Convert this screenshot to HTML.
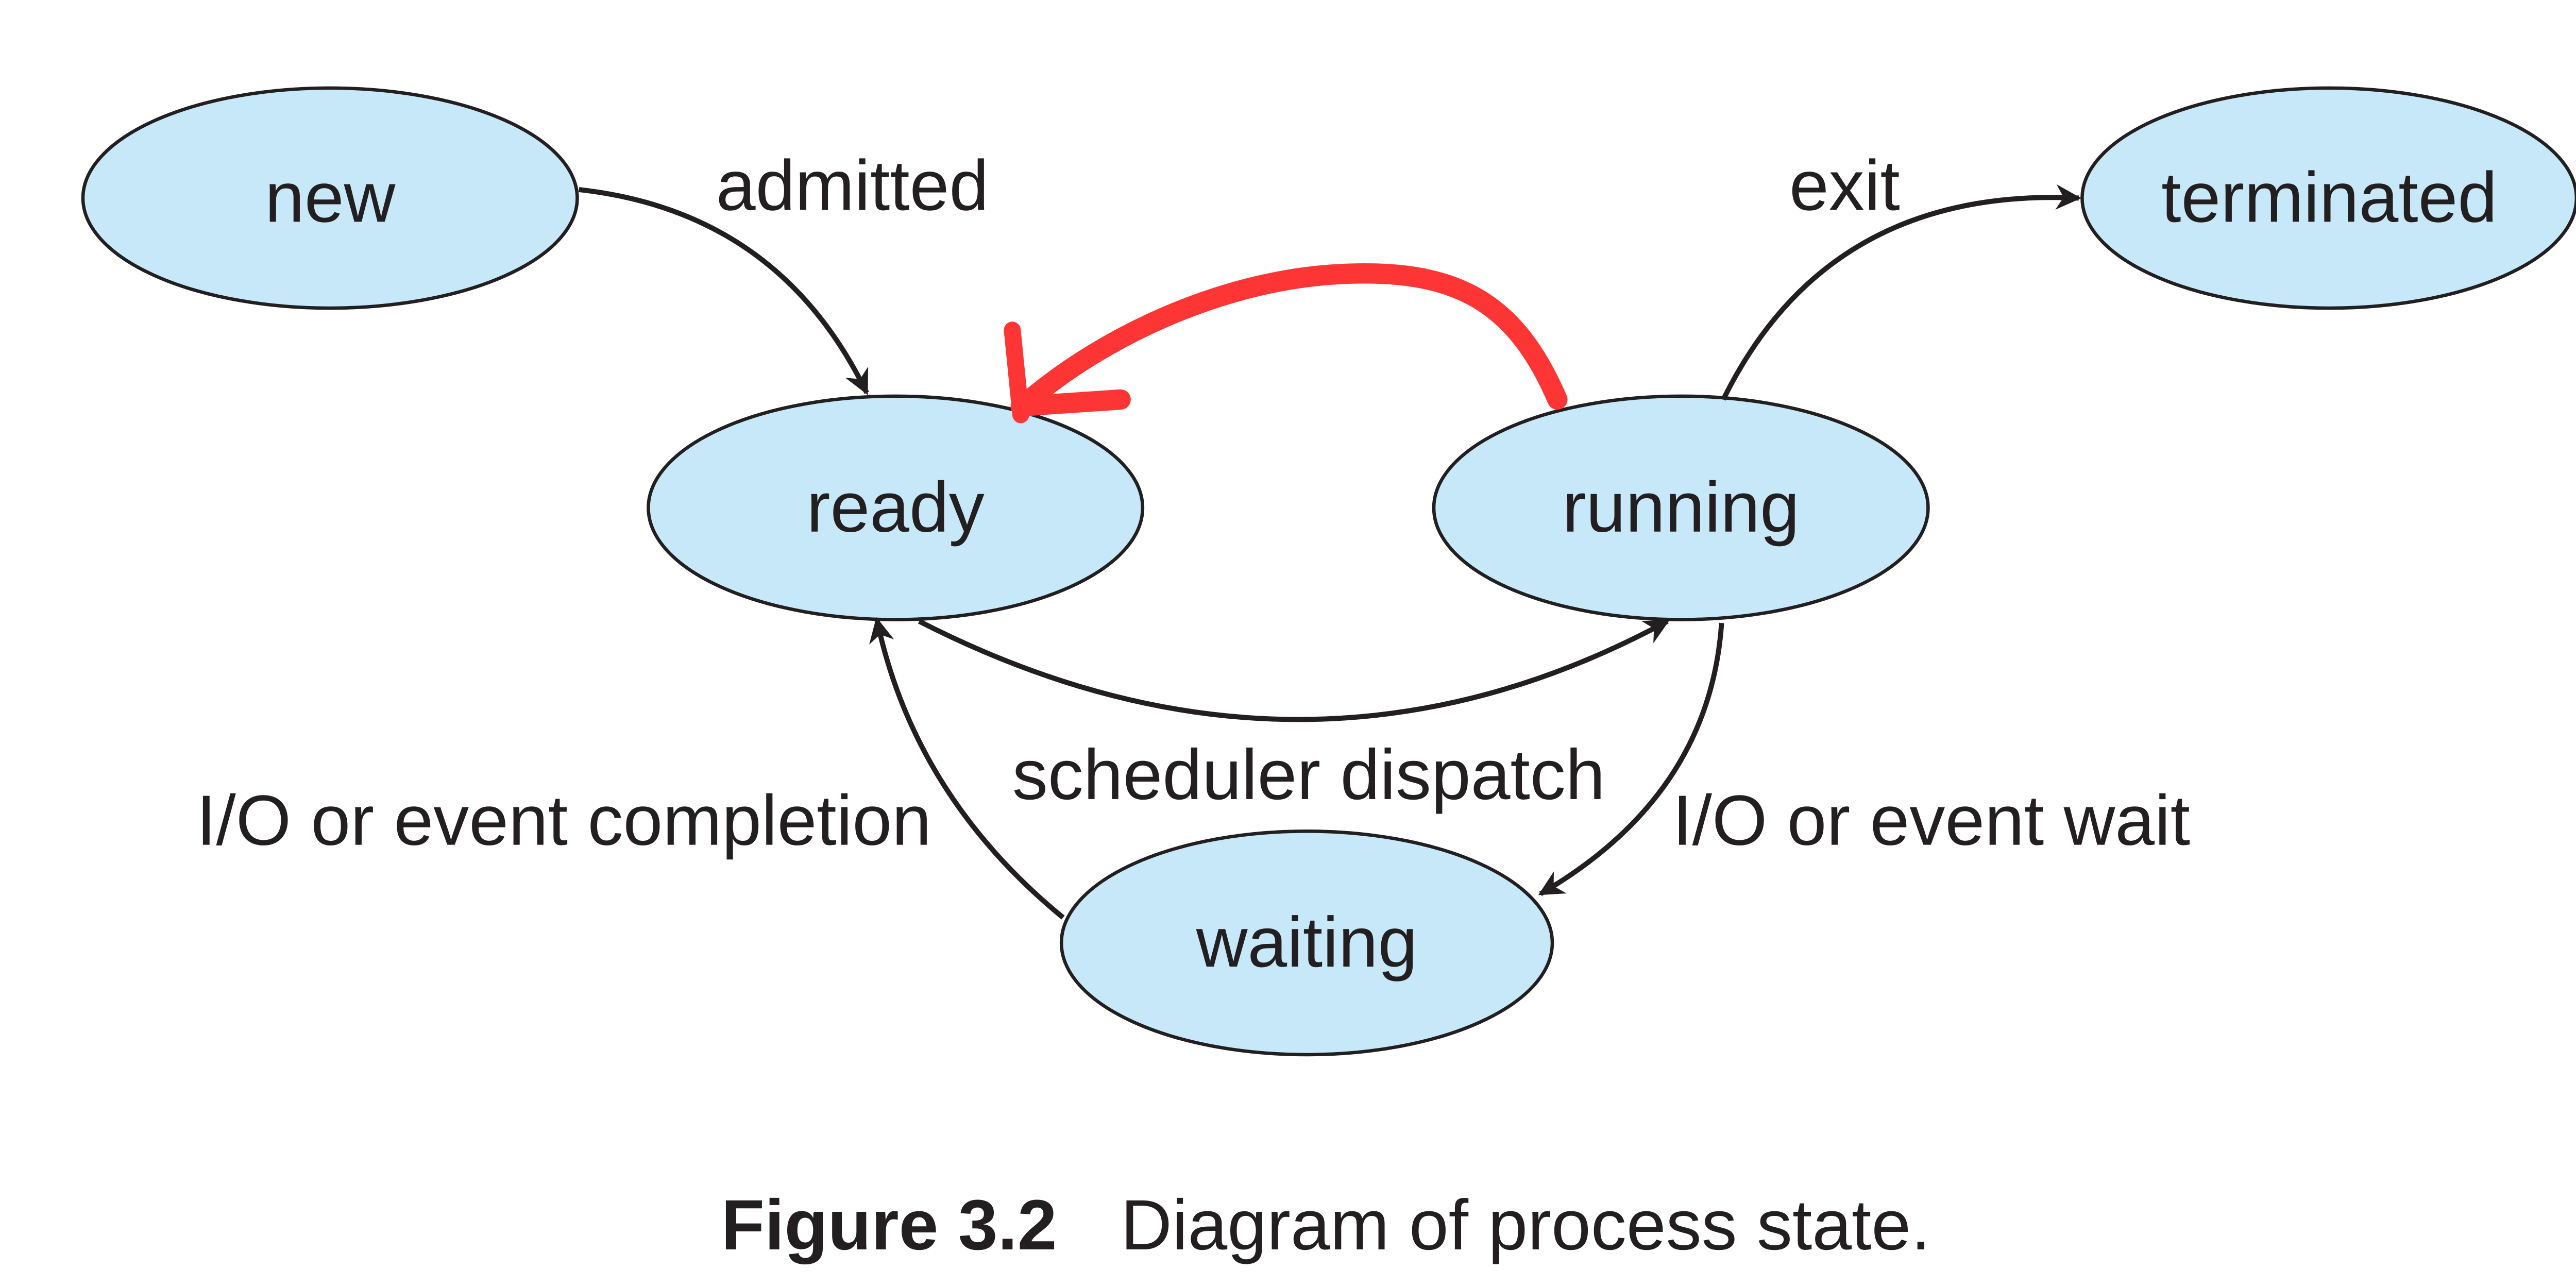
<!DOCTYPE html>
<html><head><meta charset="utf-8"><style>
html,body{margin:0;padding:0;background:#fff;}
svg{display:block;}
text{font-family:"Liberation Sans",sans-serif;fill:#231f20;}
</style></head><body>
<svg width="5152" height="2496" viewBox="0 0 1568 759.65" preserveAspectRatio="none" xmlns="http://www.w3.org/2000/svg">
<defs>
<marker id="a" viewBox="0 0 10 10" refX="9" refY="5" markerWidth="5" markerHeight="5" orient="auto" markerUnits="strokeWidth">
<path d="M0,0 L10,5 L0,10 L3,5 Z" fill="#231f20"/></marker>
</defs>
<g fill="#c6e8f9" stroke="#231f20" stroke-width="2">
<ellipse cx="195" cy="117" rx="146" ry="65"/>
<ellipse cx="1376" cy="117" rx="146" ry="65"/>
<ellipse cx="529" cy="300" rx="146" ry="66"/>
<ellipse cx="993" cy="300" rx="146" ry="66"/>
<ellipse cx="772" cy="557" rx="145" ry="66"/>
</g>
<g fill="none" stroke="#231f20" stroke-width="3">
<path d="M342,112 Q460,125 512,232" marker-end="url(#a)"/>
<path d="M1018,236 Q1080,110 1228,117" marker-end="url(#a)"/>
<path d="M543,367 Q770,483 985,367" marker-end="url(#a)"/>
<path d="M1017,368 Q1010,470 910,528" marker-end="url(#a)"/>
<path d="M628,542 Q540,470 518,366" marker-end="url(#a)"/>
</g>
<g fill="none" stroke="#fe3535" stroke-linecap="round">
<path d="M920,236 C895,178 860,158 790,162 C720,166 650,200 606,238" stroke-width="12"/>
<path d="M598,195 L603,245" stroke-width="10"/>
<path d="M603,240 L662,236" stroke-width="12"/>
</g>
<g font-size="42" text-anchor="middle">
<text x="195" y="131">new</text>
<text x="1376" y="131">terminated</text>
<text x="529" y="314">ready</text>
<text x="993" y="314">running</text>
<text x="772" y="571">waiting</text>
</g>
<g font-size="42">
<text x="423" y="124">admitted</text>
<text x="1057" y="124">exit</text>
<text x="598" y="472">scheduler dispatch</text>
<text x="116" y="499">I/O or event completion</text>
<text x="988" y="499">I/O or event wait</text>
<text x="426" y="738" font-weight="bold">Figure 3.2</text>
<text x="662" y="738">Diagram of process state.</text>
</g>
</svg>
</body></html>
